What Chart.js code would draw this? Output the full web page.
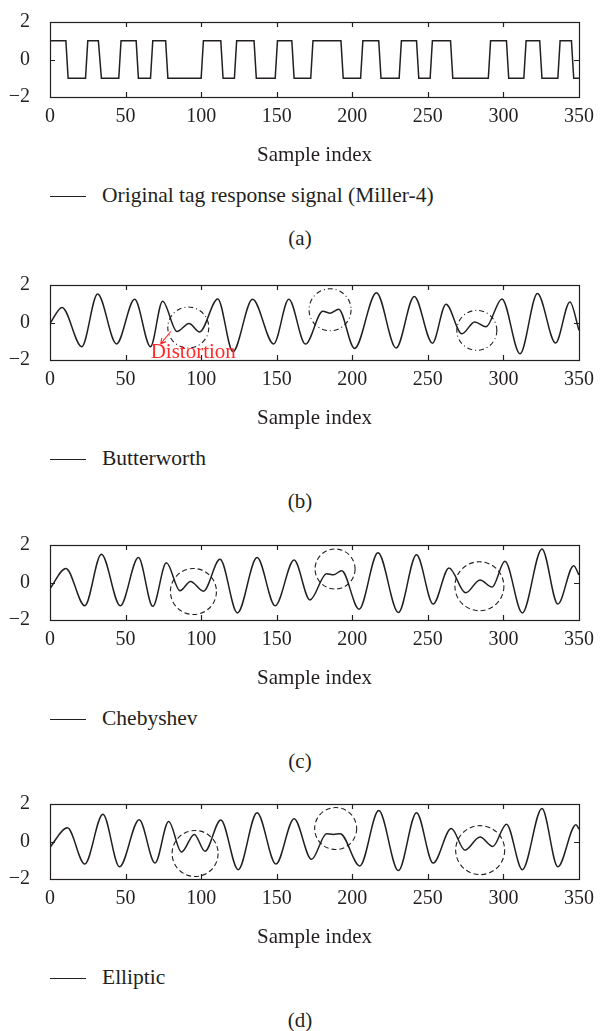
<!DOCTYPE html>
<html>
<head>
<meta charset="utf-8">
<script src="https://cdn.jsdelivr.net/npm/chart.js@4.4.1/dist/chart.umd.min.js"></script>
<style>
  body { margin: 0; background: #fff; }
  #page { position: relative; width: 607px; height: 1031px; font-family: 'Liberation Serif', 'DejaVu Serif', serif; color: #231f20; }
  .panel { position: absolute; left: 0; width: 607px; height: 260px; }
  .panel canvas { position: absolute; left: 0; top: 0; }
  .swatch { position: absolute; left: 50px; top: 196px; width: 36px; height: 0; border-top: 1.4px solid #231f20; }
  .legend { position: absolute; left: 102px; top: 183px; font-size: 21.5px; line-height: 24px; white-space: nowrap; }
  .caption { position: absolute; left: 0; top: 226px; width: 600px; text-align: center; font-size: 21px; line-height: 24px; }
</style>
</head>
<body>
<div id="page">
  <div class="panel" style="top:0px">
    <canvas id="chartA" width="607" height="168"></canvas>
    <div class="swatch"></div>
    <div class="legend">Original tag response signal (Miller-4)</div>
    <div class="caption">(a)</div>
  </div>
  <div class="panel" style="top:263px">
    <canvas id="chartB" width="607" height="168"></canvas>
    <div class="swatch"></div>
    <div class="legend">Butterworth</div>
    <div class="caption">(b)</div>
  </div>
  <div class="panel" style="top:523px">
    <canvas id="chartC" width="607" height="168"></canvas>
    <div class="swatch"></div>
    <div class="legend">Chebyshev</div>
    <div class="caption">(c)</div>
  </div>
  <div class="panel" style="top:782px">
    <canvas id="chartD" width="607" height="168"></canvas>
    <div class="swatch"></div>
    <div class="legend">Elliptic</div>
    <div class="caption">(d)</div>
  </div>
</div>
<script>
const xTickValues = [0, 50, 100, 150, 200, 250, 300, 350];
const yTickValues = [-2, 0, 2];

// (a) Miller-4 tag response, corners of the square wave
const millerX = [0, 10.5, 12, 23.5, 25, 32, 34, 45.5, 47, 57, 58.5, 66.5, 68, 76.5, 78,
  100, 101.5, 113, 114.5, 122, 123.5, 135, 136.5, 149, 150.5, 160, 161.5, 172.5, 174,
  192.5, 194, 205.5, 207, 217.5, 219, 231, 232.5, 242.5, 244, 251.5, 253, 265, 266.5,
  290, 291.5, 302, 303.5, 313.5, 315, 324, 325.5, 336, 337.5, 345, 346.5, 350];
const millerY = [1, 1, -1, -1, 1, 1, -1, -1, 1, 1, -1, -1, 1, 1, -1, -1, 1, 1, -1, -1,
  1, 1, -1, -1, 1, 1, -1, -1, 1, 1, -1, -1, 1, 1, -1, -1, 1, 1, -1, -1,
  1, 1, -1, -1, 1, 1, -1, -1, 1, 1, -1, -1, 1, 1, -1, -1];

// (b) Butterworth output, turning points
const butterX = [0, 8, 21, 31.5, 44, 56, 66.5, 74.5, 84, 92, 99, 111, 121, 134, 148, 158, 169,
  180.5, 185.5, 191, 201.5, 216, 229, 241, 253, 262, 272.5, 281, 288.5, 299, 311, 322.5, 334.5, 344, 350];
const butterY = [-0.05, 0.8, -1.29, 1.52, -1.14, 1.24, -1.29, 1.14, -0.48, -0.05, -0.5, 1.26, -1.55, 1.24, -1.14, 1.24, -1.15,
  0.6, 0.5, 0.71, -1.38, 1.59, -1.36, 1.39, -1.1, 0.98, -0.6, 0.03, -0.23, 1.26, -1.67, 1.55, -1.09, 1.1, -0.42];

// (c) Chebyshev output, turning points
const chebyX = [0, 10.5, 23, 34, 46.5, 58.5, 68, 77, 86, 93, 101.5, 112.5, 124, 137, 149, 161.5, 172,
  183, 187.5, 193, 204.5, 217, 230.5, 242.5, 253.5, 264, 275, 284.5, 292.5, 301, 312.5, 325.5, 336, 346.5, 350];
const chebyY = [-0.32, 0.75, -1.24, 1.51, -1.24, 1.33, -1.27, 1.05, -0.44, 0.06, -0.46, 1.24, -1.62, 1.33, -1.24, 1.2, -0.93,
  0.47, 0.41, 0.63, -1.42, 1.59, -1.6, 1.48, -1.15, 0.78, -0.55, 0.14, -0.24, 1.13, -1.62, 1.79, -1.15, 0.9, 0.4];

// (d) Elliptic output, turning points
const ellipX = [0, 11.5, 23, 35, 46, 59, 69.5, 78.5, 87, 95.5, 102.5, 113, 124.5, 137, 149.5, 161.5, 173,
  183, 187.5, 192, 205, 217.5, 230.5, 242.5, 253.5, 265.5, 274.5, 284.5, 293, 302, 312.5, 325.5, 336, 348, 350];
const ellipY = [-0.3, 0.73, -1.2, 1.45, -1.35, 1.16, -1.15, 1.07, -0.56, 0.38, -0.52, 1.15, -1.5, 1.54, -1.2, 1.22, -0.95,
  0.42, 0.38, 0.42, -1.3, 1.65, -1.55, 1.54, -1.15, 0.7, -0.46, 0.24, -0.26, 0.92, -1.5, 1.76, -1.35, 0.89, 0.66];

// centres of the circled regions
const butterMarks = [[91.5, -0.27], [185.3, 0.68], [282.4, -0.42]];
const chebyMarks = [[94.9, -0.48], [188.6, 0.72], [284.1, -0.2]];
const ellipMarks = [[96, -0.64], [189, 0.69], [284.6, -0.46]];

const ink = '#231f20';

const framePlugin = {
  id: 'frame',
  afterDatasetsDraw(chart, args, opts) {
    const ctx = chart.ctx;
    const a = chart.chartArea;
    const x = chart.scales.x, y = chart.scales.y;
    ctx.save();
    ctx.strokeStyle = ink;
    ctx.lineWidth = 1.2;
    ctx.strokeRect(Math.round(a.left) + 0.5, Math.round(a.top) + 0.5,
      Math.round(a.right - a.left), Math.round(a.bottom - a.top));

    ctx.beginPath();
    xTickValues.slice(1, -1).forEach(v => {
      const px = Math.round(x.getPixelForValue(v)) + 0.5;
      ctx.moveTo(px, a.bottom); ctx.lineTo(px, a.bottom - 5);
      ctx.moveTo(px, a.top); ctx.lineTo(px, a.top + 5);
    });
    yTickValues.slice(1, -1).forEach(v => {
      const py = Math.round(y.getPixelForValue(v)) + 0.5;
      ctx.moveTo(a.left, py); ctx.lineTo(a.left + 5, py);
      ctx.moveTo(a.right, py); ctx.lineTo(a.right - 5, py);
    });
    ctx.stroke();

    ctx.lineWidth = 1.1;
    if (opts.marks) {
      ctx.setLineDash(opts.dash);
      opts.marks.forEach((m, i) => {
        ctx.beginPath();
        ctx.arc(x.getPixelForValue(m[0]), y.getPixelForValue(m[1]), opts.radii[i], 0, Math.PI * 2);
        ctx.stroke();
      });
      ctx.setLineDash([]);
    }

    if (opts.note) {
      const n = opts.note;
      ctx.strokeStyle = '#ff2a2a';
      ctx.fillStyle = '#ff2a2a';
      const tx = x.getPixelForValue(n.tip[0]), ty = y.getPixelForValue(n.tip[1]);
      const fx = x.getPixelForValue(n.from[0]), fy = y.getPixelForValue(n.from[1]);
      const ang = Math.atan2(ty - fy, tx - fx);
      ctx.beginPath();
      ctx.moveTo(fx, fy); ctx.lineTo(tx, ty);
      ctx.moveTo(tx, ty); ctx.lineTo(tx - 6 * Math.cos(ang - 0.5), ty - 6 * Math.sin(ang - 0.5));
      ctx.moveTo(tx, ty); ctx.lineTo(tx - 6 * Math.cos(ang + 0.5), ty - 6 * Math.sin(ang + 0.5));
      ctx.stroke();
      ctx.font = '21px "Liberation Serif", serif';
      ctx.textAlign = 'center';
      ctx.textBaseline = 'middle';
      ctx.fillText(n.text, x.getPixelForValue(n.at[0]), y.getPixelForValue(n.at[1]));
    }
    ctx.restore();
  }
};

function toPoints(xs, ys) {
  return xs.map((v, i) => ({x: v, y: ys[i]}));
}

function drawPanel(canvasId, xs, ys, label, smooth, frameOpts) {
  const ctx = document.getElementById(canvasId);
  return new Chart(ctx, {
    type: 'line',
    data: {
      datasets: [{
        label: label,
        data: toPoints(xs, ys),
        borderColor: ink,
        borderWidth: 1.5,
        pointRadius: 0,
        tension: smooth ? 0.4 : 0,
        cubicInterpolationMode: smooth ? 'monotone' : 'default'
      }]
    },
    options: {
      responsive: false,
      animation: false,
      layout: { padding: { top: 10, right: 28, left: 0, bottom: 0 } },
      plugins: {
        legend: { display: false },
        tooltip: { enabled: false },
        frame: frameOpts || {}
      },
      scales: {
        x: {
          type: 'linear',
          min: 0,
          max: 350,
          grid: { display: false },
          border: { display: false },
          afterBuildTicks: s => { s.ticks = xTickValues.map(v => ({value: v})); },
          afterFit: s => { s.height = 71; },
          ticks: {
            autoSkip: false,
            maxRotation: 0,
            padding: 0,
            color: ink,
            font: { family: 'Liberation Serif', size: 20 }
          },
          title: {
            display: true,
            text: 'Sample index',
            color: ink,
            padding: 0,
            font: { family: 'Liberation Serif', size: 21 }
          }
        },
        y: {
          min: -2,
          max: 2,
          grid: { display: false },
          border: { display: false },
          afterBuildTicks: s => { s.ticks = yTickValues.map(v => ({value: v})); },
          afterFit: s => { s.width = 50; },
          ticks: {
            padding: 12,
            color: ink,
            font: { family: 'Liberation Serif', size: 20, lineHeight: 1 },
            callback: v => v < 0 ? '\u2212' + Math.abs(v) : String(v)
          }
        }
      }
    },
    plugins: [framePlugin]
  });
}

drawPanel('chartA', millerX, millerY, 'Original tag response signal (Miller-4)', false);
drawPanel('chartB', butterX, butterY, 'Butterworth', true, {
  marks: butterMarks, radii: [20.5, 21, 20], dash: [5, 3, 1, 3],
  note: { text: 'Distortion', at: [94.8, -1.6], tip: [73.2, -1.14], from: [79.9, -0.48] }
});
drawPanel('chartC', chebyX, chebyY, 'Chebyshev', true, {
  marks: chebyMarks, radii: [23, 20, 24.5], dash: [5, 3]
});
drawPanel('chartD', ellipX, ellipY, 'Elliptic', true, {
  marks: ellipMarks, radii: [23, 21, 24.5], dash: [5, 3]
});
</script>
</body>
</html>
